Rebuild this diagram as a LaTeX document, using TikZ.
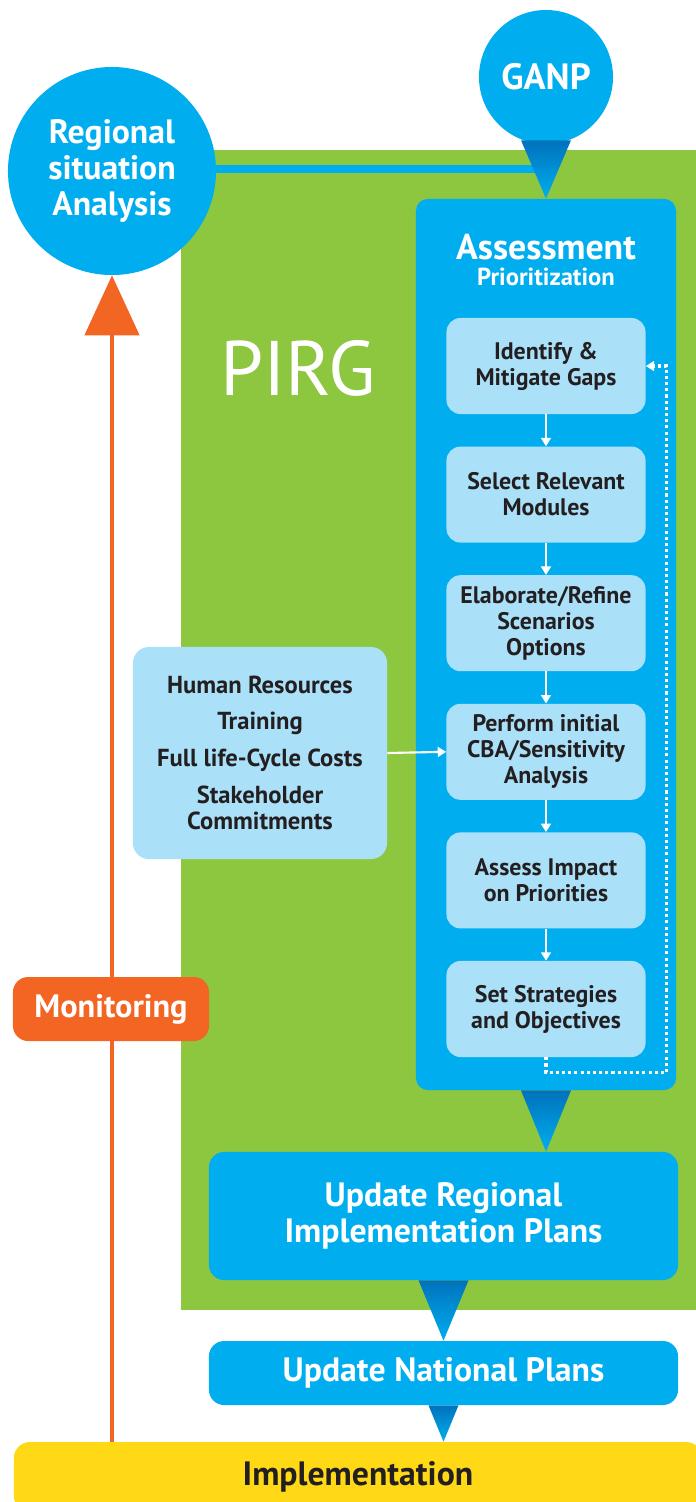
\documentclass[tikz,border=0pt]{standalone}
\usepackage{fontspec}
\setmainfont{PT Sans}
\usetikzlibrary{arrows.meta}
\usetikzlibrary{positioning}
\usetikzlibrary{calc}
\definecolor{icaoblue}{HTML}{00AEEF}
\definecolor{icaodark}{HTML}{0072BC}
\definecolor{icaolight}{HTML}{ABE0F9}
\definecolor{pirggreen}{HTML}{8DC63F}
\definecolor{monorange}{HTML}{F26522}
\definecolor{implyellow}{HTML}{FFD916}
\definecolor{inktext}{HTML}{231F20}

\begin{document}
\begin{tikzpicture}[x=0.025cm, y=-0.025cm,
	every node/.style={align=center, inner sep=0pt},
	bubble/.style={circle, fill=icaoblue, text=white, font=\bfseries\fontsize{24}{25.5}\selectfont},
	bluebox/.style={rectangle, rounded corners=0.38cm, fill=icaoblue, text=white, font=\bfseries\fontsize{24}{25.5}\selectfont},
	stepbox/.style={rectangle, rounded corners=0.35cm, fill=icaolight, text=inktext, minimum width=4.975cm, minimum height=2.4cm, font=\bfseries\fontsize{17}{18.5}\selectfont},
	pointer/.style={top color=icaodark, bottom color=icaoblue},
	flow/.style={white, line width=1.5pt, -{Triangle[width=7pt,length=6pt]}},
	feedback/.style={white, line width=2.2pt, dash pattern=on 2.2pt off 2.2pt, -{Triangle[width=7pt,length=6pt]}},
	monitor/.style={monorange, line width=3.5pt, -{Triangle[width=1.35cm,length=1.5cm]}}]
	\useasboundingbox (0,0) rectangle (696,1502);
	\fill[pirggreen] (181,150) rectangle (696,1310);
	\node[text=white, font=\fontsize{55}{55}\selectfont] (pirg) at (298,368) {PIRG};

	\node[bubble, minimum size=5.2cm] (ras) at (112,171) {Regional\\situation\\Analysis};
	\node[bubble, minimum size=3.35cm, font=\bfseries\fontsize{26}{26}\selectfont] (ganp) at (546,77) {GANP};
	\node[bluebox, rounded corners=0.3cm, minimum width=6.5cm, minimum height=22.275cm] (assess) at (546,644.5) {};
	\node[text=white, font=\bfseries\fontsize{25.5}{25.5}\selectfont] (assesstitle) at (546,247) {Assessment};
	\node[text=white, font=\bfseries\fontsize{17.5}{17.5}\selectfont] (prio) at (546,277) {Prioritization};

	\node[stepbox] (s1) at (546,366) {Identify \&\\Mitigate Gaps};
	\node[stepbox, below=0.8cm of s1] (s2) {Select Relevant\\Modules};
	\node[stepbox, below=0.8cm of s2] (s3) {Elaborate/Refine\\Scenarios\\Options};
	\node[stepbox, below=0.8cm of s3] (s4) {Perform initial\\CBA/Sensitivity\\Analysis};
	\node[stepbox, below=0.8cm of s4] (s5) {Assess Impact\\on Priorities};
	\node[stepbox, below=0.8cm of s5] (s6) {Set Strategies\\and Objectives};
	\node[stepbox, rounded corners=0.4cm, minimum width=6.35cm, minimum height=5.3cm, font=\bfseries\fontsize{17.5}{19}\selectfont] (hr) at (260,753)
		{Human Resources\\[7pt]Training\\[7pt]Full life-Cycle Costs\\[7pt]Stakeholder\\Commitments};

	\node[bluebox, minimum width=11.725cm, minimum height=3.2cm] (urip) at (443.5,1216) {Update Regional\\Implementation Plans};
	\node[bluebox, minimum width=11.725cm, minimum height=1.6cm] (unp) at (443.5,1373) {Update National Plans};
	\node[bluebox, fill=implyellow, text=inktext, rounded corners=0.4cm, minimum width=17.2cm, minimum height=1.75cm] (impl) at (358,1477) {Implementation};

	\draw[icaoblue, line width=5pt] (ras.east |- 0,169) -- (ganp.south |- 0,169);
	\shade[pointer] ($(ganp.south)+(-25,-4)$) -- ($(ganp.south)+(25,-4)$) -- (ganp.south |- assess.north) -- cycle;
	\shade[pointer] ($(assess.south)+(-25,0)$) -- ($(assess.south)+(25,0)$) -- (assess.south |- urip.north) -- cycle;
	\shade[pointer] ($(urip.south)+(-25,0)$) -- ($(urip.south)+(25,0)$) -- (urip.south |- unp.north) -- cycle;
	\shade[pointer] ($(unp.south)+(-15,0)$) -- ($(unp.south)+(15,0)$) -- (unp.south |- impl.north) -- cycle;

	\draw[flow] (s1) -- (s2);
	\draw[flow] (s2) -- (s3);
	\draw[flow] (s3) -- (s4);
	\draw[flow] (s4) -- (s5);
	\draw[flow] (s5) -- (s6);
	\draw[flow] (hr.east) -- (s4.west);
	\draw[feedback] (s6.south) -- ++(0,15) -| ($(s1.east)+(21,0)$) -- (s1.east);

	\draw[monitor] (impl.north -| ras.south) -- (ras.south);
	\node[bluebox, fill=monorange, rounded corners=0.38cm, minimum width=4.9cm, minimum height=1.6cm, font=\bfseries\fontsize{23}{23}\selectfont] (mon) at (111,1009) {Monitoring};
\end{tikzpicture}
\end{document}
